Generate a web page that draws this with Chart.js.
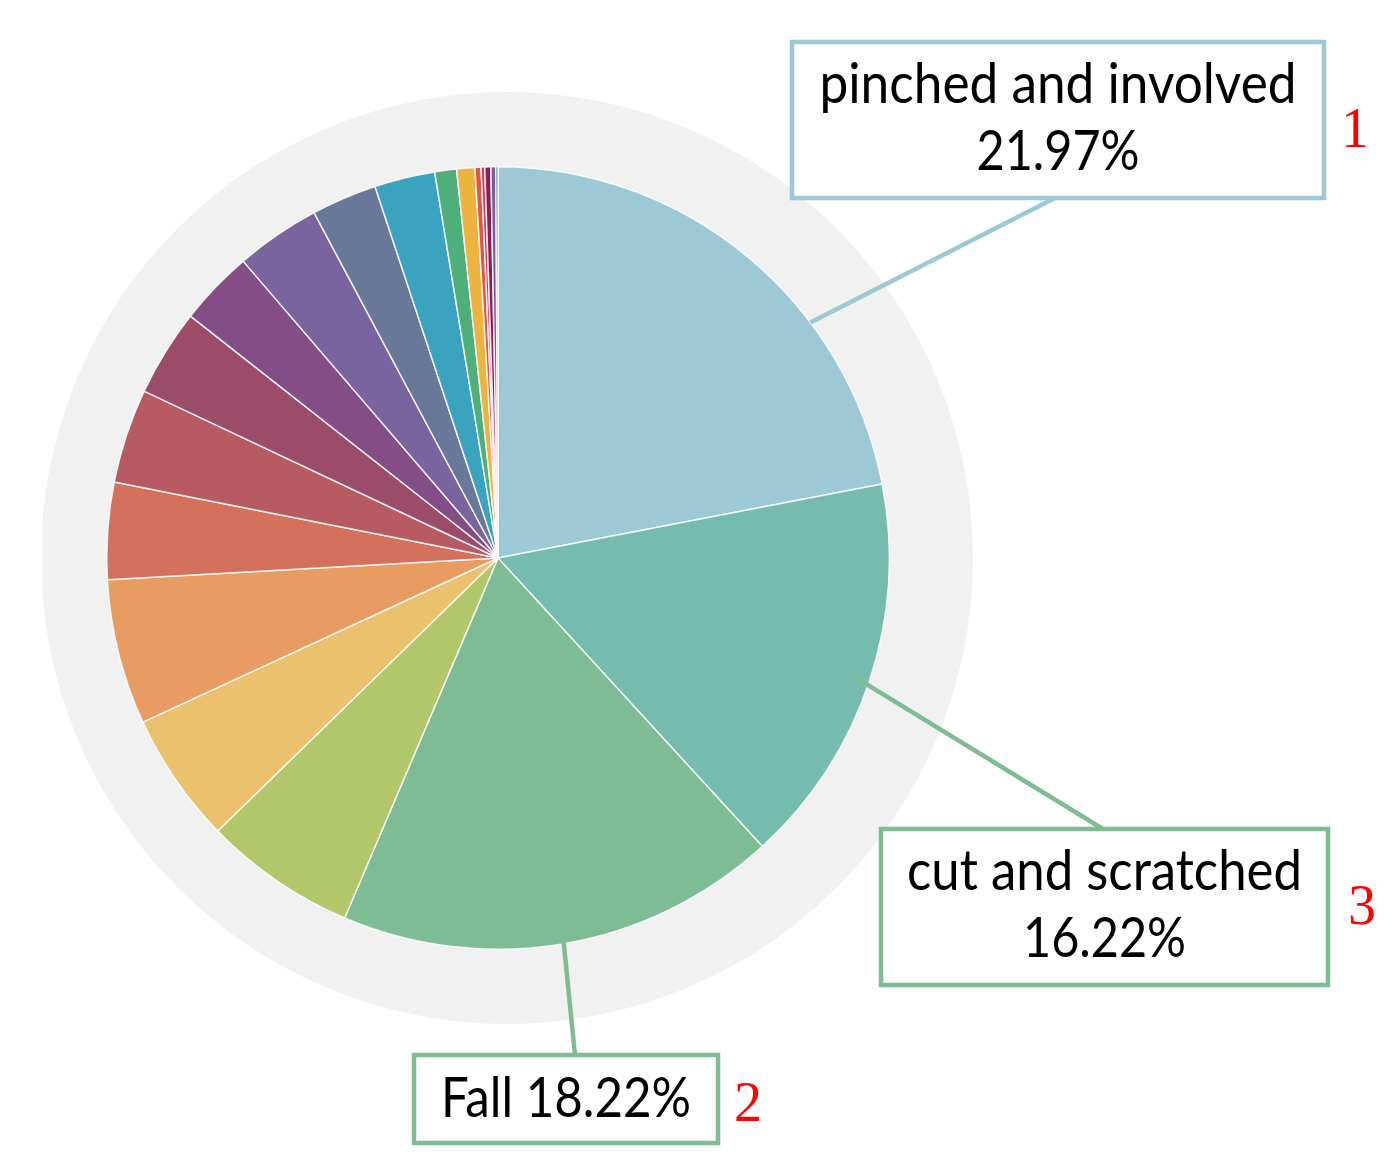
<!DOCTYPE html>
<html>
<head>
<meta charset="utf-8">
<script src="https://cdn.jsdelivr.net/npm/chart.js@4.4.1/dist/chart.umd.min.js"></script>
<style>
  body { margin: 0; background: #fff; }
  #wrap { width: 1394px; height: 1173px; }
</style>
</head>
<body>
<div id="wrap"><canvas id="pieChart" width="1394" height="1173"></canvas></div>
<script>
// injury types (only the three largest are named in the picture)
const categorias = ['pinched and involved', 'cut and scratched', 'Fall',
    'type 4', 'type 5', 'type 6', 'type 7', 'type 8', 'type 9', 'type 10',
    'type 11', 'type 12', 'type 13', 'type 14', 'type 15', 'type 16',
    'type 17', 'type 18', 'type 19', 'type 20']
const percentuais = [21.97, 16.22, 18.22, 6.3, 5.4, 6.0, 4.0, 3.9, 3.6, 3.1,
    3.5, 2.7, 2.5, 0.9, 0.75, 0.25, 0.15, 0.25, 0.2, 0.09]
const cores = ['#9dc8d6', '#76bcae', '#7ebd93', '#b1c76a', '#ecc16d', '#e99c62',
    '#d4715c', '#b75a62', '#9a4c68', '#824e85', '#7a64a0', '#677898', '#3aa3bd',
    '#4eaf7a', '#ecb43f', '#d9584a', '#c43c5a', '#8a1f56', '#7a5aa0', '#3a6aa8']
// callouts: which slice, rank shown in red
const destaques = [0, 1, 2]
const ranking = ['1', '3', '2']

const caixas = [
    { x: 792, y: 42, w: 532, h: 156, cor: '#9dc8d6', linhas: 2, rankX: 1355, rankY: 147,
      frac: 0.67, rfrac: 1.0, fim: [1055, 198] },
    { x: 881, y: 829, w: 447, h: 156, cor: '#7ebd93', linhas: 2, rankX: 1362, rankY: 924,
      frac: 0.5, rfrac: 0.95, fim: [1103, 829] },
    { x: 414, y: 1055, w: 304, h: 88, cor: '#7ebd93', linhas: 1, rankX: 748, rankY: 1121,
      frac: 0.5, rfrac: 0.99, fim: [575, 1055] }
]

function textoAjustado(ctx, txt, x, y, size, largura) {
    ctx.font = `${size}px Lato`
    let w = ctx.measureText(txt).width
    ctx.save()
    ctx.translate(x, y)
    ctx.scale(largura / w, 1)
    ctx.fillText(txt, 0, 0)
    ctx.restore()
}

const fundo = {
    id: 'fundo',
    beforeDatasetsDraw(chart) {
        const ctx = chart.ctx
        ctx.save()
        ctx.beginPath()
        ctx.rect(42, 0, 1394, 1173)
        ctx.clip()
        ctx.beginPath()
        ctx.arc(507, 558, 466, 0, Math.PI * 2)
        ctx.fillStyle = '#f1f1f1'
        ctx.fill()
        ctx.restore()
    }
}

const chamadas = {
    id: 'chamadas',
    afterDatasetsDraw(chart) {
        const ctx = chart.ctx
        const arcos = chart.getDatasetMeta(0).data
        ctx.save()
        destaques.forEach((idx, i) => {
            const c = caixas[i]
            const a = arcos[idx]
            const ang = a.startAngle + (a.endAngle - a.startAngle) * c.frac
            const r = a.outerRadius * c.rfrac
            const px = a.x + Math.cos(ang) * r
            const py = a.y + Math.sin(ang) * r

            ctx.strokeStyle = c.cor
            ctx.lineWidth = 4.5
            ctx.beginPath()
            ctx.moveTo(px, py)
            ctx.lineTo(c.fim[0], c.fim[1])
            ctx.stroke()

            ctx.fillStyle = '#fff'
            ctx.fillRect(c.x, c.y, c.w, c.h)
            ctx.strokeRect(c.x, c.y, c.w, c.h)

            const pct = percentuais[idx].toFixed(2) + '%'
            ctx.fillStyle = '#000'
            ctx.textAlign = 'center'
            ctx.textBaseline = 'alphabetic'
            const cx = c.x + c.w / 2
            if (c.linhas == 2) {
                const nome = categorias[idx]
                textoAjustado(ctx, nome, cx, c.y + 61, 56, nome.length > 18 ? 477 : 395)
                textoAjustado(ctx, pct, cx, c.y + 128, 56, 163)
            } else {
                textoAjustado(ctx, `${categorias[idx]} ${pct}`, cx, c.y + 62, 56, 250)
            }

            ctx.fillStyle = '#ff0000'
            ctx.font = '56px "Liberation Serif"'
            ctx.fillText(ranking[i], c.rankX, c.rankY)
        })
        ctx.restore()
    }
}

document.addEventListener('DOMContentLoaded', () => {
    const canvas = document.getElementById('pieChart')
    new Chart(canvas, {
        type: 'pie',
        data: {
            labels: categorias,
            datasets: [{
                data: percentuais,
                backgroundColor: cores,
                borderColor: 'rgba(255,255,255,0.85)',
                borderWidth: 1.5
            }]
        },
        options: {
            responsive: false,
            animation: false,
            layout: { padding: { left: 106, right: 504, top: 166, bottom: 223 } },
            plugins: {
                legend: { display: false },
                tooltip: { enabled: false }
            }
        },
        plugins: [fundo, chamadas]
    })
})
</script>
</body>
</html>
